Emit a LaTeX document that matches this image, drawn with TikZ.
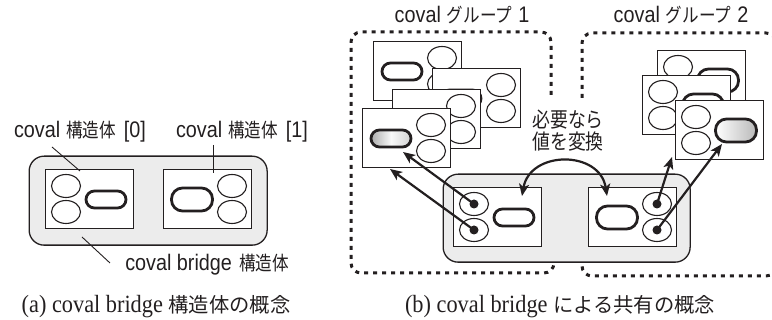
\documentclass[tikz,border=0pt]{standalone}
\usepackage{fontspec}
\setmainfont{Liberation Serif}
\newfontfamily\jsans{Noto Sans CJK JP}
\newfontfamily\jsansN[FakeStretch=0.85]{Noto Sans CJK JP}
\newfontfamily\lsans[FakeStretch=0.88]{Liberation Sans}
\newfontfamily\capserif[FakeStretch=0.9]{Liberation Serif}
\usetikzlibrary{arrows.meta,calc,shapes.geometric}

\definecolor{ink}{RGB}{35,31,32}
\definecolor{panelgray}{RGB}{236,236,236}

\newcommand\LatA[1]{{\lsans\fontsize{22.5}{26}\selectfont #1}}
\newcommand\JpA[1]{{\jsansN\fontsize{19.5}{22}\selectfont #1}}
\newcommand\CapL[1]{{\capserif\fontsize{24.8}{28}\selectfont #1}}
\newcommand\CapJ[1]{{\jsans\fontsize{20.3}{24}\selectfont #1}}

\tikzset{
  card/.style={draw=ink, fill=white, line width=1.3pt, minimum width=88pt, minimum height=59pt, anchor=north west, inner sep=0pt},
  oval/.style={draw=ink, fill=white, ellipse, line width=1.1pt, minimum width=29pt, minimum height=23pt, inner sep=0pt},
  caps/.style={draw=ink, fill=white, line width=2.8pt, rounded corners=8.5pt, minimum width=40pt, minimum height=17pt, inner sep=0pt},
  fatcaps/.style={rounded corners=11pt, minimum width=41pt, minimum height=23pt},
  gradA/.style={left color=gray!65, right color=gray!35, middle color=gray!5},
  gradB/.style={left color=white, right color=gray!55},
  bridgebox/.style={draw=ink, fill=panelgray, line width=1.3pt, rounded corners=15pt},
  grp/.style={draw=ink, line width=3pt, dash pattern=on 4pt off 5pt, rounded corners=10pt},
  dot/.style={circle, fill=ink, inner sep=0pt, minimum size=9pt},
  conn/.style={draw=ink, line width=2.2pt, -{Stealth[length=12pt,width=10pt,inset=3pt]}},
  dconn/.style={draw=ink, line width=2.2pt, {Stealth[length=12pt,width=10pt,inset=3pt]}-{Stealth[length=12pt,width=10pt,inset=3pt]}},
  leader/.style={draw=ink, line width=0.9pt},
  lbl/.style={text=ink, inner sep=0pt},
  captext/.style={text=ink, inner sep=0pt},
}

% card with ellipses on the left, capsule on the right
\newcommand\mkcardE[4]{%
  \node[card] (#1) at (#2,#3) {};
  \node[oval] (#1e1) at ($(#1.north west)+(21,17)$) {};
  \node[oval] (#1e2) at ($(#1.north west)+(21,43)$) {};
  \node[caps,#4] (#1c) at ($(#1.north west)+(61,30.5)$) {};
}
% card with capsule on the left, ellipses on the right
\newcommand\mkcardC[4]{%
  \node[card] (#1) at (#2,#3) {};
  \node[caps,#4] (#1c) at ($(#1.north west)+(29,30.5)$) {};
  \node[oval] (#1e1) at ($(#1.north west)+(69,17)$) {};
  \node[oval] (#1e2) at ($(#1.north west)+(69,43)$) {};
}

\begin{document}
\begin{tikzpicture}[x=1pt,y=-1pt]
\useasboundingbox (0,0) rectangle (772,320);

% ================= (a) =================
\node[bridgebox, minimum width=238pt, minimum height=89pt, anchor=north west] (abox) at (28.5,155.5) {};
\mkcardE{al}{45}{169}{}
\mkcardC{ar}{163}{169}{fatcaps}

\node[lbl] (la0) at (80,132) {\LatA{coval\hspace{6pt}}\JpA{構造体}\LatA{\hspace{8pt}[0]}};
\node[lbl] (la1) at (242,132) {\LatA{coval\hspace{6pt}}\JpA{構造体}\LatA{\hspace{8pt}[1]}};
\node[lbl] (lab) at (207,265) {\LatA{coval bridge\hspace{7pt}}\JpA{構造体}};
\coordinate (la0e) at (80,171);
\coordinate (la0s) at (52,147);
\coordinate (la1s) at (213,145);
\coordinate (la1e) at (213,173);
\coordinate (labs) at (110,263);
\coordinate (labe) at (82,237);
\draw[leader] (la0s) -- (la0e);
\draw[leader] (la1s) -- (la1e);
\draw[leader] (labs) -- (labe);

\node[captext] (capa) at (156,307) {\CapL{(a) coval bridge }\CapJ{構造体の概念}};

% ================= (b) =================
\coordinate (g1a) at (551,95);
\coordinate (g1b) at (551,32);
\coordinate (g1c) at (351,32);
\coordinate (g1d) at (351,273);
\coordinate (g1e) at (554,273);
\coordinate (g1f) at (554,261);
\draw[grp] (g1a) -- (g1b) -- (g1c) -- (g1d) -- (g1e) -- (g1f);
\coordinate (g2a) at (582,98);
\coordinate (g2b) at (582,33);
\coordinate (g2c) at (776,33);
\coordinate (g2d) at (776,276);
\coordinate (g2e) at (582,276);
\coordinate (g2f) at (582,263);
\draw[grp] (g2a) -- (g2b) -- (g2c) -- (g2d) -- (g2e) -- (g2f);

\node[lbl] (lg1) at (462,15) {\LatA{coval\hspace{6pt}}\JpA{グループ}\LatA{\hspace{6pt}1}};
\node[lbl] (lg2) at (681,15) {\LatA{coval\hspace{6pt}}\JpA{グループ}\LatA{\hspace{6pt}2}};

% group 1 stack
\mkcardC{ga}{373}{41}{}
\mkcardC{gb}{432}{68}{}
\mkcardC{gc}{392}{89}{}
\mkcardC{gd}{362}{108}{gradA}

% group 2 stack
\mkcardE{ge}{657}{50}{fatcaps}
\mkcardE{gf}{642}{75}{fatcaps}
\mkcardE{gg}{675}{100}{fatcaps,gradB}

\node[lbl, align=center, font=\jsansN\fontsize{21}{22}\selectfont] (conv) at (568,131) {必要なら\\値を変換};

% bridge
\node[bridgebox, minimum width=247pt, minimum height=88pt, anchor=north west] (bbox) at (442.5,173.5) {};
\mkcardE{bl}{453}{187}{}
\mkcardC{br}{588}{187}{fatcaps}

\node[dot] (d1) at (ble1) {};
\node[dot] (d2) at (ble2) {};
\node[dot] (d3) at (bre1) {};
\node[dot] (d4) at (bre2) {};

\coordinate (tA) at (403,152);
\coordinate (tB) at (390,169);
\coordinate (tC) at (672,157);
\coordinate (tD) at (722,144);
\coordinate (cL) at (522,196);
\coordinate (cR) at (607,196);

\draw[conn] (d1.center) -- (tA);
\draw[conn] (d2.center) -- (tB);
\draw[conn] (d3.center) -- (tC);
\draw[conn] (d4.center) -- (tD);
\draw[dconn] (cL) .. controls (530,150) and (600,150) .. (cR);

\node[captext] (capb) at (560,307) {\CapL{(b) coval bridge }\CapJ{による共有の概念}};
\end{tikzpicture}
\end{document}
